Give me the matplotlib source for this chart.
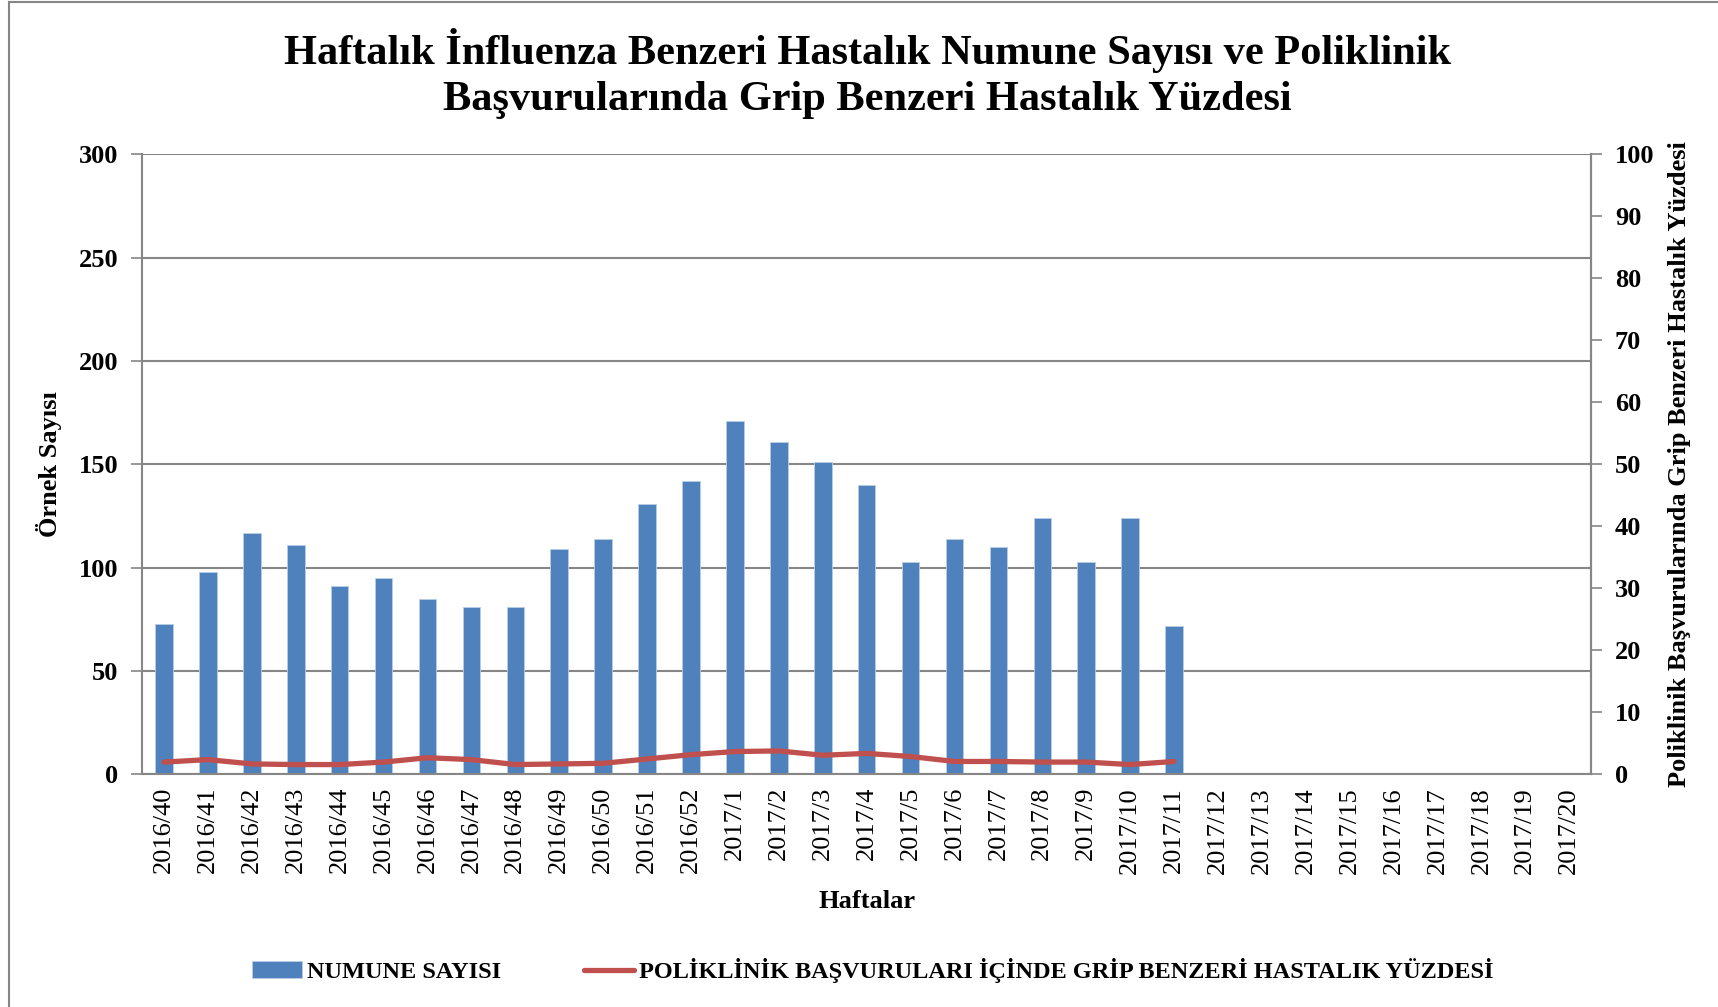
"""
Haftalik influenza benzeri hastalik numune sayisi ve GBH yuzdesi grafigi.
"""

import matplotlib
matplotlib.use("Agg")
import matplotlib.pyplot as plt
from matplotlib.lines import Line2D

plt.rcParams['font.family'] = ['Liberation Serif', 'DejaVu Serif']

# haftalar
weeks = ["2016/%d" % w for w in range(40, 53)] + ["2017/%d" % w for w in range(1, 21)]

# numune sayisi (2017/11'e kadar)
samples = [73, 98, 117, 111, 91, 95, 85, 81, 81, 109, 114, 131, 142,
           171, 161, 151, 140, 103, 114, 110, 124, 103, 124, 72]

# poliklinik basvurulari icinde GBH yuzdesi
ili_pct = [2.0, 2.4, 1.7, 1.6, 1.6, 2.0, 2.7, 2.4, 1.6, 1.7, 1.8, 2.5, 3.2,
           3.7, 3.8, 3.1, 3.4, 2.9, 2.1, 2.1, 2.0, 2.0, 1.6, 2.1]

left_ticks = [0, 50, 100, 150, 200, 250, 300]
right_ticks = list(range(0, 101, 10))

grey = '#868686'

fig = plt.figure(figsize=(17.18, 10.07), dpi=100)
ax = fig.add_axes([0.0827, 0.2309, 0.8435, 0.6157])

x = list(range(len(weeks)))
bars = ax.bar(x[:len(samples)], samples, width=0.4, color='#4F81BD',
              edgecolor='#B9CDE5', linewidth=0.6, label='NUMUNE SAYISI', zorder=2)

ax.set_xlim(-0.5, len(weeks) - 0.5)
ax.set_ylim(0, 300)
ax.set_yticks(left_ticks)
ax.yaxis.grid(True, color=grey, linewidth=1.5, zorder=0)
ax.set_axisbelow(True)
ax.set_xticks(x)
ax.set_xticklabels(weeks, rotation=90, fontsize=19)
ax.tick_params(axis='x', length=0, pad=9)
ax.tick_params(axis='y', direction='out', length=8, width=1.2, color=grey,
               labelsize=19, pad=9)
for lab in ax.get_yticklabels():
    lab.set_fontweight('bold')
ax.spines['top'].set_visible(False)
for side in ['left', 'bottom', 'right']:
    ax.spines[side].set_color(grey)
    ax.spines[side].set_linewidth(1.5)
ax.set_ylabel("Örnek Sayısı", fontsize=19, fontweight='bold', labelpad=12)
ax.set_xlabel("Haftalar", fontsize=19, fontweight='bold', labelpad=12)

# ikinci eksen: yuzde
ax2 = ax.twinx()
line, = ax2.plot(x[:len(ili_pct)], ili_pct, color='#C0504D', linewidth=3.8,
                 solid_capstyle='round',
                 label='POLİKLİNİK BAŞVURULARI İÇİNDE GRİP BENZERİ HASTALIK YÜZDESİ')
ax2.set_ylim(0, 100)
ax2.set_yticks(right_ticks)
ax2.tick_params(axis='y', direction='out', length=8, width=1.2, color=grey,
                labelsize=19, pad=9)
for lab in ax2.get_yticklabels():
    lab.set_fontweight('bold')
for side in ['top', 'left', 'bottom']:
    ax2.spines[side].set_visible(False)
ax2.spines['right'].set_color(grey)
ax2.spines['right'].set_linewidth(1.5)
ax2.set_ylabel("Poliklinik Başvurularında Grip Benzeri Hastalık Yüzdesi",
               fontsize=19, fontweight='bold', labelpad=10)

fig.suptitle("Haftalık İnfluenza Benzeri Hastalık Numune Sayısı ve Poliklinik\n"
             "Başvurularında Grip Benzeri Hastalık Yüzdesi",
             x=0.505, fontsize=30.5, fontweight='bold', y=0.972, linespacing=1.27)

fig.legend([bars, line], [bars.get_label(), line.get_label()],
           loc='center', bbox_to_anchor=(0.508, 0.036), ncol=2, frameon=False,
           prop={'weight': 'bold', 'size': 17.5}, columnspacing=3.4,
           handlelength=2.05, handletextpad=0.2)

# dis cerceve
fig.add_artist(Line2D([0.005, 0.005], [0, 0.998], color=grey, linewidth=1.5))
fig.add_artist(Line2D([0.005, 1], [0.998, 0.998], color=grey, linewidth=1.5))

plt.savefig("out.png", dpi=100)
